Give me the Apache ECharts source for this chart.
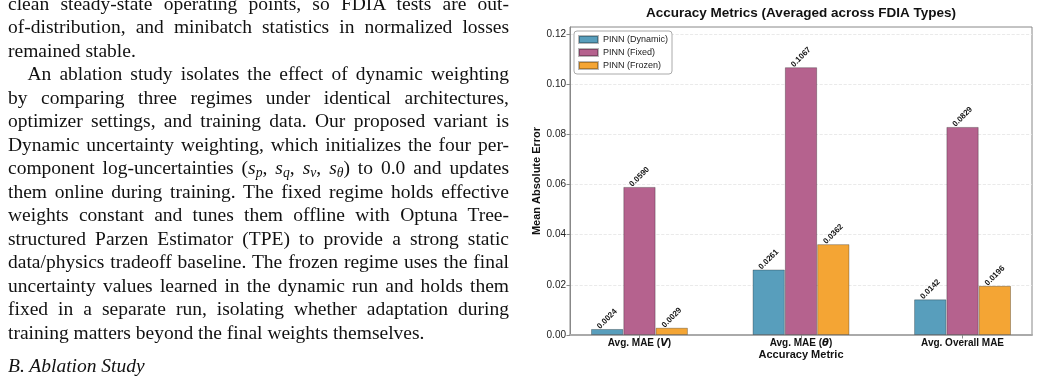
<!DOCTYPE html>
<html><head><meta charset="utf-8">
<script src="https://cdn.jsdelivr.net/npm/echarts@6/dist/echarts.min.js"></script>
<style>
html,body{margin:0;padding:0;width:1039px;height:382px;overflow:hidden;background:#fff;}
#chart{position:absolute;left:0;top:0;width:1039px;height:382px;}
#text{position:absolute;left:8px;top:-8.5px;width:501px;font-family:"Liberation Serif","Times New Roman",serif;font-size:19.5px;line-height:23.5px;color:#111;z-index:2;}
.l{height:23.5px;text-align:justify;text-align-last:justify;}
.e{text-align:left;text-align-last:left;}
.ind{text-indent:19.5px;}
sub{font-size:0.7em;line-height:0;vertical-align:-0.25em;font-style:italic;}
#head{position:absolute;left:8px;top:354px;font-family:"Liberation Serif","Times New Roman",serif;font-style:italic;font-size:19.5px;line-height:23.4px;color:#111;z-index:2;}
</style></head>
<body>
<div id="chart"></div>
<div id="text">
<div class="l">clean steady-state operating points, so FDIA tests are out-</div>
<div class="l">of-distribution, and minibatch statistics in normalized losses</div>
<div class="l e">remained stable.</div>
<div class="l ind">An ablation study isolates the effect of dynamic weighting</div>
<div class="l">by comparing three regimes under identical architectures,</div>
<div class="l">optimizer settings, and training data. Our proposed variant is</div>
<div class="l">Dynamic uncertainty weighting, which initializes the four per-</div>
<div class="l">component log-uncertainties (<i>s</i><sub>p</sub>, <i>s</i><sub>q</sub>, <i>s</i><sub>v</sub>, <i>s</i><sub>θ</sub>) to 0.0 and updates</div>
<div class="l">them online during training. The fixed regime holds effective</div>
<div class="l">weights constant and tunes them offline with Optuna Tree-</div>
<div class="l">structured Parzen Estimator (TPE) to provide a strong static</div>
<div class="l">data/physics tradeoff baseline. The frozen regime uses the final</div>
<div class="l">uncertainty values learned in the dynamic run and holds them</div>
<div class="l">fixed in a separate run, isolating whether adaptation during</div>
<div class="l e">training matters beyond the final weights themselves.</div>
</div>
<div id="head">B. Ablation Study</div>
<script>
const categories = ['Avg. MAE (V)', 'Avg. MAE (θ)', 'Avg. Overall MAE'];
const seriesNames = ['PINN (Dynamic)', 'PINN (Fixed)', 'PINN (Frozen)'];
const dynamicMAE = [0.0024, 0.0261, 0.0142];
const fixedMAE = [0.0590, 0.1067, 0.0829];
const frozenMAE = [0.0029, 0.0362, 0.0196];
const yTicks = [0, 0.02, 0.04, 0.06, 0.08, 0.10, 0.12];
const colors = ['#589EBC', '#B5628E', '#F4A534'];

const FONT = '"Liberation Sans", Arial, sans-serif';
const chart = echarts.init(document.getElementById('chart'), null, {renderer: 'canvas'});
const catIdx = categories.map((_, i) => i);

function mk(name, vals, color) {
  return {
    name: name, type: 'bar', barWidth: '20%', barGap: '0%',
    data: vals.map((v, i) => [i, v]),
    itemStyle: {color: color, borderColor: 'rgba(0,0,0,0.28)', borderWidth: 1},
    label: {
      show: true, position: 'top', distance: 10, rotate: 45,
      align: 'center', verticalAlign: 'middle',
      fontFamily: FONT, fontSize: 8, fontWeight: 'bold', color: '#111',
      formatter: p => p.value[1].toFixed(4)
    }
  };
}

chart.setOption({
  backgroundColor: '#fff',
  animation: false,
  title: {
    text: 'Accuracy Metrics (Averaged across FDIA Types)',
    left: 801, top: 6, textAlign: 'center', padding: 0,
    textStyle: {fontFamily: FONT, fontSize: 13.5, fontWeight: 'bold', color: '#111'}
  },
  legend: {
    data: seriesNames, orient: 'vertical', left: 574, top: 31,
    itemWidth: 19, itemHeight: 7, itemGap: 2, padding: [3, 4, 3, 4],
    borderColor: '#aaa', borderWidth: 1, borderRadius: 3, backgroundColor: '#fff',
    icon: 'rect',
    textStyle: {fontFamily: FONT, fontSize: 9, color: '#222', lineHeight: 11}
  },
  grid: {left: 570, right: 7, top: 27, bottom: 47, show: true, borderColor: '#888', borderWidth: 1},
  xAxis: {
    type: 'value', min: -0.43, max: 2.43,
    name: 'Accuracy Metric', nameLocation: 'middle', nameGap: 14, nameMoveOverlap: false,
    nameTextStyle: {fontFamily: FONT, fontSize: 11, fontWeight: 'bold', color: '#111'},
    axisLine: {show: true, onZero: false, lineStyle: {color: '#aaa', width: 2}},
    axisTick: {show: true, length: 3.5, customValues: catIdx, lineStyle: {color: '#888'}},
    splitLine: {show: false},
    axisLabel: {
      customValues: catIdx, margin: 3,
      fontFamily: FONT, fontSize: 10, fontWeight: 'bold', color: '#111',
      formatter: v => categories[Math.round(v)].replace(/\((V|θ)\)/, '({i|$1})'),
      rich: {i: {fontFamily: '"DejaVu Sans", sans-serif', fontStyle: 'italic', fontSize: 10, color: '#111'}}
    }
  },
  yAxis: {
    type: 'value', min: 0, max: Math.max(...fixedMAE) * 1.15,
    name: 'Mean Absolute Error', nameLocation: 'middle', nameGap: 26,
    nameTextStyle: {fontFamily: FONT, fontSize: 11, fontWeight: 'bold', color: '#111'},
    axisLine: {show: true, onZero: false, lineStyle: {color: '#888'}},
    axisTick: {show: true, length: 3.5, customValues: yTicks, lineStyle: {color: '#888'}},
    axisLabel: {customValues: yTicks, margin: 4, fontFamily: FONT, fontSize: 10, color: '#222',
      formatter: v => v.toFixed(2)},
    splitLine: {show: true, lineStyle: {color: '#e4e4e4', type: 'dashed', width: 0.8}}
  },
  series: [
    mk(seriesNames[0], dynamicMAE, colors[0]),
    mk(seriesNames[1], fixedMAE, colors[1]),
    mk(seriesNames[2], frozenMAE, colors[2])
  ]
});
</script>
</body></html>
